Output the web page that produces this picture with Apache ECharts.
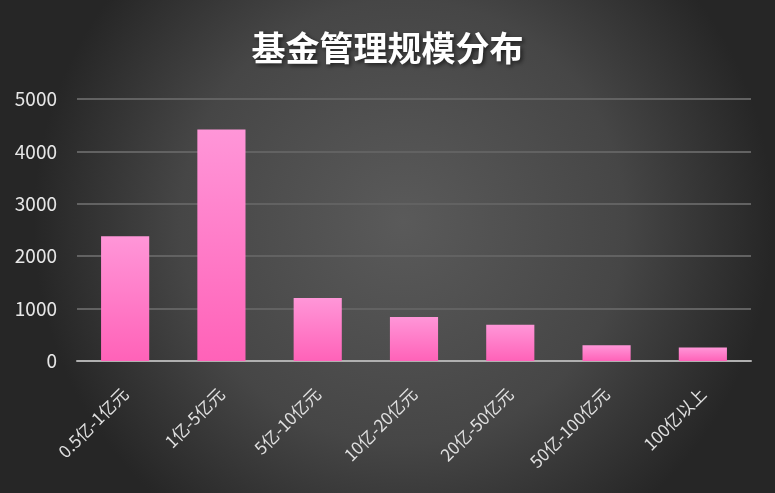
<!DOCTYPE html>
<html>
<head>
<meta charset="utf-8">
<style>
html,body{margin:0;padding:0;background:#333;}
#main{width:775px;height:493px;}
</style>
<script src="https://cdn.jsdelivr.net/npm/echarts@6/dist/echarts.min.js"></script>
</head>
<body>
<div id="main"></div>
<script>
var categories = ['0.5亿-1亿元','1亿-5亿元','5亿-10亿元','10亿-20亿元','20亿-50亿元','50亿-100亿元','100亿以上'];
var counts = [2380, 4420, 1200, 840, 690, 300, 260];
var yTicks = [0, 1000, 2000, 3000, 4000, 5000];

var chart = echarts.init(document.getElementById('main'));
var font = '"Noto Sans CJK SC", "Noto Sans", sans-serif';
var option = {
	backgroundColor: {
		type: 'radial', x: 0.52, y: 0.45, r: 0.75,
		colorStops: [
			{offset: 0, color: '#5a5a5a'},
			{offset: 0.6, color: '#464646'},
			{offset: 1, color: '#262626'}
		]
	},
	title: {
		text: '基金管理规模分布',
		left: 'center',
		top: 26,
		textStyle: {
			color: '#ffffff',
			fontFamily: font,
			fontWeight: 'bold',
			fontSize: 34,
			textShadowColor: 'rgba(0,0,0,0.6)',
			textShadowBlur: 4,
			textShadowOffsetX: 2,
			textShadowOffsetY: 2
		}
	},
	grid: {left: 77, right: 24, top: 99, bottom: 132},
	xAxis: {
		type: 'category',
		data: categories,
		axisLine: {lineStyle: {color: '#b0b0b0', width: 2}},
		axisTick: {show: false},
		axisLabel: {
			color: '#e0e0e0',
			fontFamily: font,
			fontSize: 17,
			rotate: 45,
			interval: 0,
			margin: 30
		}
	},
	yAxis: {
		type: 'value',
		min: yTicks[0],
		max: yTicks[yTicks.length - 1],
		interval: 1000,
		axisLine: {show: false},
		axisTick: {show: false},
		axisLabel: {
			color: '#e6e6e6', fontFamily: font, fontSize: 19, margin: 20,
			formatter: function (v) { return String(v); }
		},
		splitLine: {lineStyle: {color: '#626262', width: 2}}
	},
	series: [{
		type: 'bar',
		data: counts,
		barWidth: '50%',
		itemStyle: {
			color: {
				type: 'linear', x: 0, y: 0, x2: 0, y2: 1,
				colorStops: [
					{offset: 0, color: '#ff96d8'},
					{offset: 1, color: '#ff62b8'}
				]
			}
		}
	}]
};
chart.setOption(option);
</script>
</body>
</html>
